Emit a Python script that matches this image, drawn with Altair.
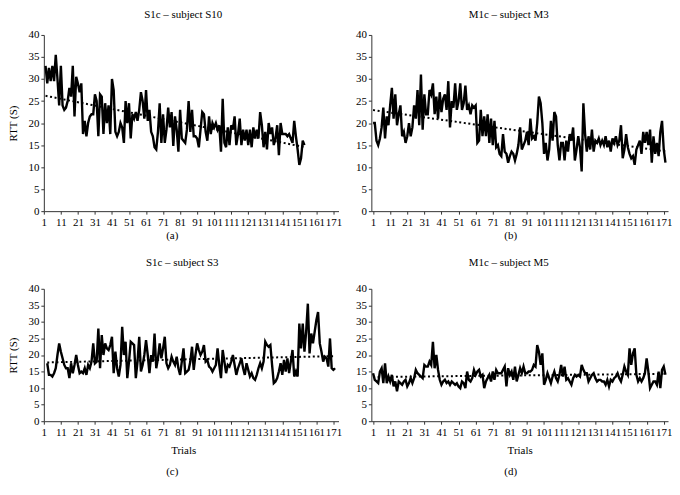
import altair as alt
import pandas as pd

# ---- data ----
# Panel (a) S1c - subject S10, trials start at 2
a_start = 2
a_rtt = [33, 29, 32.5, 29.5, 33, 29.5, 35.5, 30, 24, 33,
         24, 23, 23.5, 25, 28, 26, 33, 21.5, 30.5, 29,
         27, 29, 17.5, 20.5, 17, 20, 21.5, 22, 22, 26.5,
         25, 17, 26.5, 26, 17.5, 24.5, 20, 24, 17.5, 30,
         27.5, 18, 17, 18, 20, 19, 15.5, 25, 20, 24.5,
         16.5, 22, 21, 22.5, 20.5, 23, 27, 25, 21, 27.5,
         20.5, 23, 18, 17, 14.5, 14, 18, 24.5, 15.5, 22,
         15.5, 18.5, 23.5, 19, 22.5, 14.8, 21.5, 18.5, 13.5, 23,
         16.5, 16, 15.5, 18.5, 25, 18, 23, 17, 17, 16.5,
         14.5, 18.5, 22.5, 22, 18, 16, 21.5, 17.5, 20, 19,
         20, 18.5, 19.5, 13.5, 25.5, 15.5, 14.5, 19, 15, 19.5,
         18.5, 21.5, 15, 17.5, 21, 15, 18.5, 16, 18.5, 15,
         18.5, 14.5, 19, 16.5, 18.5, 16.5, 22.5, 19.5, 14.5, 18,
         14, 20, 17.5, 19, 15, 16.5, 19.5, 12.7, 20, 17.5,
         17.5, 17.5, 17, 17.5, 16.5, 15.5, 20.5, 17, 14, 10.5,
         12, 16, 15]

# Panel (b) M1c - subject M3, trials start at 1
b_start = 1
b_rtt = [20, 20, 16, 15, 16.5, 19, 23.5, 16.5, 21.5, 19.5,
         24, 28, 21, 26.5, 19.5, 22, 24, 17, 18, 15.5,
         17, 20, 17, 19, 24, 21, 27.5, 19.5, 31, 18.5,
         26.5, 22, 22, 27.5, 26.5, 29, 22, 26, 21, 27,
         22.5, 25.5, 26.5, 23, 29.5, 19, 25, 23.5, 29, 23,
         25, 29, 23, 24.5, 28.5, 23, 24, 22, 24, 23.5,
         24, 15.5, 16, 23, 17, 21.5, 17, 22, 15.5, 21,
         15, 20.5, 14.5, 15, 13, 12.5, 17.5, 13.5, 13, 11,
         12.5, 13.5, 13, 11.5, 13, 15, 19, 14, 15, 16,
         18, 15, 21, 16.5, 17, 16, 20, 26, 24.5, 20,
         13, 15.5, 11.5, 14, 20.5, 16, 22.5, 21.5, 15, 11.5,
         15.5, 15.5, 11.5, 16, 13.5, 17.5, 16, 19, 11.5, 14,
         17, 14.5, 9, 24.5, 17.5, 13.5, 17, 14, 18.5, 13.5,
         16, 15.5, 16.5, 15, 16, 15, 17, 14.5, 16, 13.5,
         16.5, 15.5, 17, 15, 16, 19.5, 12, 14, 17.5, 14.5,
         13, 12, 12.5, 10.5, 14, 15, 16, 13, 18, 15.5,
         18, 15, 18.5, 11, 17, 13, 15.5, 12.5, 18, 20.5,
         14, 11]

# Panel (c) S1c - subject S3, trials start at 3
c_start = 3
c_rtt = [17.5, 14, 14, 13.5, 14.5, 16, 20, 23.5, 21, 19,
         17, 16, 16, 13, 17.5, 14.5, 17, 20, 17, 14.5,
         15, 14.5, 16, 14, 17, 16, 18, 23.5, 17.5, 18,
         28, 16, 26, 20, 23.5, 22, 21.5, 23, 25.5, 14.5,
         21, 16, 13.5, 17, 28.5, 20, 24, 13, 18, 24,
         23.5, 23, 13, 18, 25.5, 15, 17, 20, 24.5, 20,
         14.5, 20, 18, 26.5, 16, 19, 23.5, 19, 22, 25.5,
         17.5, 16, 17, 19.5, 18, 17, 19.5, 16, 14, 18,
         22, 14.5, 15, 15.5, 18, 22.5, 15.5, 20,
         23.5, 21.5, 20, 21, 23, 18, 18.5, 16.5, 16, 15,
         16, 17, 22, 17, 13, 21.5, 18, 14.5, 17, 16.5,
         18, 20, 17, 14, 16, 17.5, 19, 16, 14, 17.5,
         15.5, 13.5, 14.5, 13, 12.5, 14, 16, 17.5, 16, 18,
         24, 23, 22.5, 23, 17, 11.5, 12, 13, 15, 17.5,
         14, 18.5, 15, 19, 14.5, 18, 21.5, 13.5, 15, 13.5,
         29.5, 22, 29.5, 21, 27, 35.5, 20.5, 26.5, 23.5, 27,
         30.5, 33, 23.5, 21, 18, 19.5, 19, 16.5, 25, 16,
         15.5, 16]

# Panel (d) M1c - subject M5, trials start at 1
d_start = 1
d_rtt = [14.5, 12.5, 12, 11.5, 15, 16, 11.5, 17.5, 11.5, 13.5,
         12, 14, 10.5, 12, 9, 12, 11.5, 11, 12, 12.5,
         10.5, 11.5, 13, 11.5, 13, 15.5, 14.5, 14, 13.5, 13,
         17, 16.5, 16.5, 18, 17, 24, 16, 20, 15.5, 12.5,
         11, 12, 12.5, 11.5, 12, 11, 12, 11.5, 11, 11.5,
         10.5, 10, 12, 11.5, 10, 15, 12.5, 12, 13, 15.5,
         14, 15, 15.5, 13.5, 14, 10, 12, 13, 14, 12,
         15, 12.5, 15.5, 14.5, 14.5, 14.5, 15.5, 16.5, 10.5, 16,
         14, 15, 12.5, 16.5, 12, 14, 16, 14.5, 16.5, 14.5,
         14.5, 15, 15, 15.5, 17, 16.5, 23, 21, 17, 20.5,
         11, 12.5, 14.5, 13, 11.5, 13.5, 15, 13, 12, 14,
         17, 13.5, 16.5, 12.5, 13, 12, 11, 13, 14, 13.5,
         14, 13.5, 17, 15.5, 14.5, 14.5, 12, 13, 14, 14.5,
         13, 12, 12.5, 12.5, 12, 12, 11, 12.5, 10.5, 12.5,
         12, 13, 13.5, 14.5, 13, 12, 14, 16.5, 15, 14,
         22, 17, 20.5, 22, 14, 12, 13, 12, 13, 14.5,
         19, 15, 10, 11, 12, 12, 11, 15, 10, 15.5,
         16.5, 14]

titles = ["S1c \u2013 subject S10", "M1c \u2013 subject M3",
          "S1c \u2013 subject S3", "M1c \u2013 subject M5"]
captions = ["(a)", "(b)", "(c)", "(d)"]
x_ticks = list(range(1, 172, 10))
y_ticks = list(range(0, 41, 5))

FONT = "Liberation Serif"


def frame(start, vals):
    return pd.DataFrame({"trial": [start + i for i in range(len(vals))], "rtt": vals})


def panel(df, title, caption, width, height, xdom, left, bottom, tdx, toff, cap_x, cap_y, trials_x):
    if bottom:
        x_axis = alt.Axis(values=x_ticks, labelOverlap=False, labelFlush=False, labelBound=False,
                          grid=False, tickSize=3, labelPadding=2, title="Trials",
                          titleX=trials_x, titleY=29, titleBaseline="middle", titleAlign="center",
                          titleAnchor="start")
    else:
        x_axis = alt.Axis(values=x_ticks, labelOverlap=False, labelFlush=False, labelBound=False,
                          grid=False, tickSize=3, labelPadding=2, title=None)
    if left:
        y_axis = alt.Axis(values=y_ticks, grid=False, tickSize=3, labelPadding=2,
                          title="RTT (S)", titlePadding=9)
    else:
        y_axis = alt.Axis(values=y_ticks, grid=False, tickSize=3, labelPadding=2, title=None)

    x = alt.X("trial:Q", scale=alt.Scale(domain=xdom, nice=False, zero=False), axis=x_axis)
    y = alt.Y("rtt:Q", scale=alt.Scale(domain=[0, 40], nice=False), axis=y_axis)

    base = alt.Chart(df)
    line = base.mark_line(color="black", strokeWidth=2.4, strokeJoin="miter").encode(x=x, y=y)
    trend = base.transform_regression("trial", "rtt").mark_line(
        color="black", strokeWidth=2, strokeDash=[2, 2.6]).encode(x=x, y=y)
    cap = alt.Chart(pd.DataFrame({"c": [caption]})).mark_text(
        font=FONT, fontSize=11, color="black", baseline="middle", align="center").encode(
        text="c:N", x=alt.value(cap_x), y=alt.value(cap_y))
    return alt.layer(line, trend, cap).properties(
        width=width, height=height,
        title=alt.TitleParams(title, font=FONT, fontSize=11, fontWeight="normal", color="black",
                              anchor="middle", dx=tdx, offset=toff))


pa = panel(frame(a_start, a_rtt), titles[0], captions[0], 296, 177, [1, 174], True, False,
           -8, 9, 129, 202, 140)
pb = panel(frame(b_start, b_rtt), titles[1], captions[1], 298, 177, [0, 173.5], False, False,
           -11, 9, 140, 202, 149)
pc = panel(frame(c_start, c_rtt), titles[2], captions[2], 296, 133, [1, 174], True, True,
           -9, 15, 129, 184, 140)
pd_ = panel(frame(d_start, d_rtt), titles[3], captions[3], 298, 133, [0, 173.5], False, True,
            -11, 15, 140, 184, 149)

chart = alt.concat(pa, pb, pc, pd_, columns=2, spacing=alt.RowColnumber(row=78, column=33),
                   bounds="flush").configure_view(stroke=None).configure_axis(
    labelFont=FONT, titleFont=FONT, labelFontSize=11, titleFontSize=11,
    labelColor="black", titleColor="black", domainColor="#333", tickColor="#333",
    titleFontWeight="normal"
).properties(padding=0)

chart.save("out.html", embed_options={"renderer": "svg", "actions": False})
